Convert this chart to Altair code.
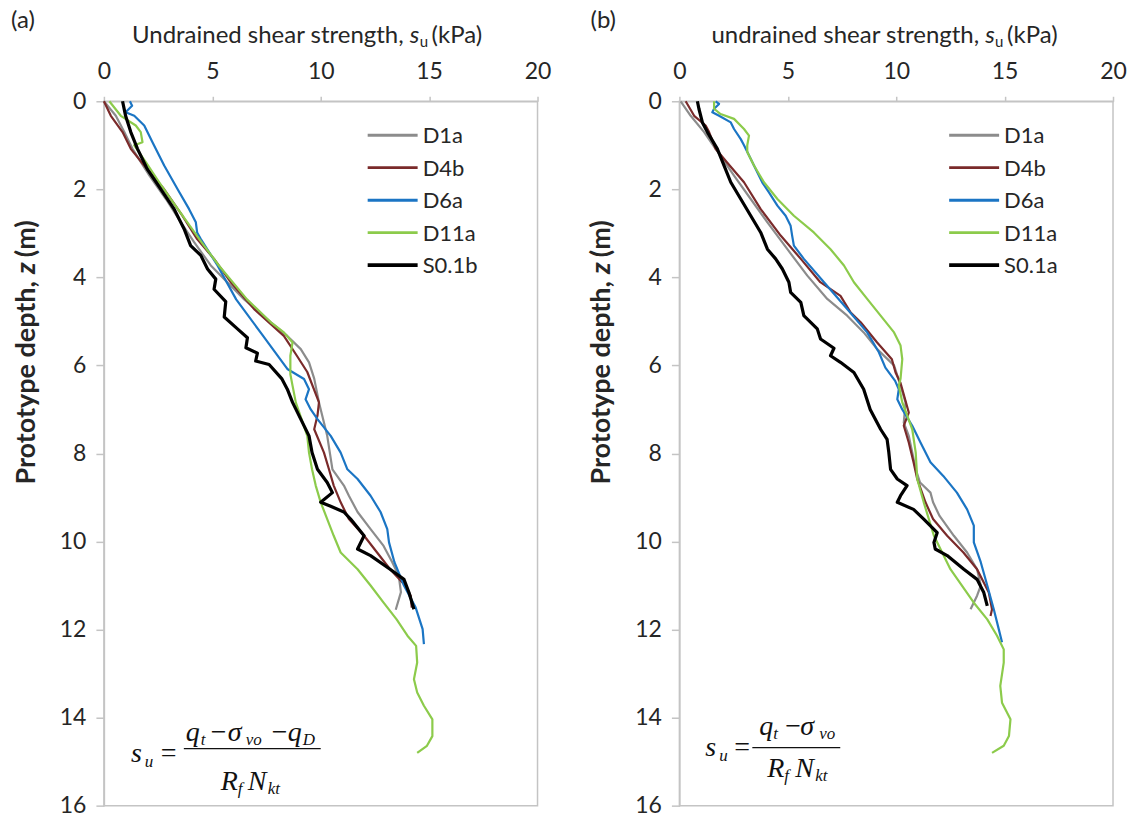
import altair as alt
import pandas as pd

# ---------------- data ----------------
SERIES_A = ["D1a", "D4b", "D6a", "D11a", "S0.1b"]
SERIES_B = ["D1a", "D4b", "D6a", "D11a", "S0.1a"]
COLORS = ["#8C8C8C", "#7A2A2A", "#1B75C4", "#8CCB4B", "#000000"]
WIDTHS = [2.2, 2.2, 2.4, 2.2, 3.2]

# panel (a)
a_d1a_su = [0.0, 0.55, 0.94, 1.32, 2.1, 2.86, 3.55, 4.16, 4.93, 6.47, 7.7, 8.46, 9.08, 9.46, 9.7, 9.92,
            10.3, 10.54, 11.07, 11.3, 11.7, 12.3, 12.9, 13.3, 13.6, 13.7, 13.46]
a_d1a_z = [0.0, 0.33, 0.7, 1.08, 1.69, 2.22, 2.75, 3.2, 3.73, 4.5, 5.02, 5.33, 5.63, 5.93, 6.3, 6.84,
           7.6, 8.36, 8.73, 8.96, 9.33, 9.72, 10.1, 10.47, 10.78, 11.15, 11.55]
a_d4b_su = [0.0, 0.32, 0.86, 1.24, 1.86, 2.78, 3.62, 4.3, 5.08, 5.85, 6.93, 8.3, 8.9, 9.38, 9.92, 9.85,
            9.7, 10.15, 10.38, 10.6, 10.92, 11.3, 12.0, 12.6, 13.2, 13.9, 14.15, 14.2]
a_d4b_z = [0.0, 0.33, 0.7, 1.08, 1.46, 2.0, 2.6, 3.13, 3.58, 4.11, 4.72, 5.33, 5.78, 6.15, 6.84, 7.14,
           7.45, 7.98, 8.36, 8.73, 9.11, 9.49, 9.87, 10.25, 10.63, 11.0, 11.23, 11.5]
a_d6a_su = [1.2, 1.3, 1.0, 1.4, 1.86, 2.24, 2.78, 3.4, 3.93, 4.24, 4.3, 4.47, 5.24, 6.1, 7.3, 8.46, 9.23,
            9.46, 9.3, 9.54, 9.85, 10.46, 10.92, 11.23, 11.7, 12.3, 12.76, 13.07, 13.15, 13.4, 13.84,
            14.38, 14.7, 14.76]
a_d6a_z = [0.0, 0.1, 0.25, 0.33, 0.55, 0.93, 1.46, 2.0, 2.45, 2.75, 2.98, 3.13, 3.73, 4.5, 5.3, 6.08,
           6.31, 6.54, 6.77, 7.0, 7.22, 7.6, 7.98, 8.36, 8.58, 8.96, 9.33, 9.72, 10.02, 10.47, 11.0,
           11.5, 11.99, 12.33]
a_d11a_su = [0.25, 0.78, 1.47, 1.7, 1.78, 1.4, 1.94, 2.55, 3.2, 3.85, 4.5, 5.3, 6.6, 7.7, 8.3, 8.7,
             8.6, 8.6, 8.7, 8.85, 9.38, 9.46, 9.6, 9.77, 10.0, 10.3, 10.6, 10.92, 11.7, 12.3, 12.9,
             13.5, 14.0, 14.4, 14.45, 14.3, 14.45, 14.76, 15.15, 15.15, 14.9, 14.45]
a_d11a_z = [0.0, 0.33, 0.55, 0.7, 0.93, 1.0, 1.39, 1.84, 2.3, 2.75, 3.2, 3.73, 4.5, 5.02, 5.25, 5.48,
            5.78, 6.2, 6.46, 6.84, 7.6, 7.98, 8.36, 8.73, 9.11, 9.49, 9.87, 10.25, 10.63, 11.0, 11.39,
            11.77, 12.14, 12.37, 12.75, 13.13, 13.43, 13.73, 14.04, 14.42, 14.64, 14.8]
a_s01_su = [0.86, 1.0, 1.24, 1.55, 2.0, 2.63, 3.24, 3.7, 4.0, 4.47, 4.78, 5.16, 5.08, 5.62, 5.55, 6.16,
            6.62, 6.55, 7.08, 7.0, 7.62, 8.2, 8.46, 8.7, 9.08, 9.46, 9.6, 9.85, 10.3, 10.54, 10.0,
            10.46, 11.07, 11.38, 12.0, 11.7, 12.3, 13.2, 13.84, 14.07, 14.3]
a_s01_z = [0.0, 0.33, 0.7, 1.08, 1.54, 2.0, 2.45, 2.9, 3.28, 3.5, 3.81, 4.04, 4.27, 4.55, 4.9, 5.17,
           5.37, 5.6, 5.72, 5.9, 5.98, 6.3, 6.54, 6.84, 7.22, 7.6, 7.98, 8.36, 8.66, 8.89, 9.11,
           9.2, 9.33, 9.49, 9.87, 10.17, 10.32, 10.63, 10.86, 11.16, 11.54]

# panel (b)
b_d1a_su = [0.06, 0.52, 1.14, 1.67, 2.52, 3.29, 4.06, 4.98, 5.9, 6.82, 7.74, 8.5, 9.12, 9.9, 10.2,
            10.43, 10.35, 10.58, 10.74, 10.9, 11.1, 11.58, 11.7, 12.0, 12.66, 13.27, 13.73, 13.9,
            13.73, 13.43]
b_d1a_z = [0.0, 0.33, 0.7, 1.08, 1.69, 2.22, 2.75, 3.36, 3.96, 4.49, 4.87, 5.25, 5.63, 6.0, 6.46,
           6.84, 7.3, 7.6, 7.98, 8.36, 8.66, 8.89, 9.11, 9.42, 9.87, 10.25, 10.63, 11.0, 11.23, 11.54]
b_d4b_su = [0.29, 0.68, 1.21, 1.37, 1.67, 2.2, 2.98, 3.75, 4.67, 5.6, 6.5, 7.43, 7.9, 8.36, 9.12, 9.8,
            9.97, 10.2, 10.58, 10.35, 10.58, 10.8, 10.97, 11.35, 11.7, 12.35, 13.1, 13.73, 14.27,
            14.42, 14.35]
b_d4b_z = [0.0, 0.33, 0.55, 0.7, 1.08, 1.39, 1.84, 2.45, 3.05, 3.58, 4.11, 4.42, 4.8, 5.02, 5.48,
           5.86, 6.16, 6.4, 7.07, 7.37, 7.75, 8.2, 8.58, 9.11, 9.49, 9.87, 10.25, 10.63, 11.16,
           11.54, 11.69]
b_d6a_su = [1.67, 1.83, 1.6, 1.52, 1.83, 2.37, 2.52, 2.83, 2.98, 3.44, 3.82, 4.13, 4.52, 4.9, 5.13,
            5.2, 5.28, 5.74, 6.67, 7.74, 8.66, 9.2, 9.5, 9.95, 10.12, 10.05, 10.28, 10.74, 11.12,
            11.58, 12.17, 12.8, 13.27, 13.58, 13.58, 13.9, 14.2, 14.5, 14.73, 14.88]
b_d6a_z = [0.0, 0.06, 0.17, 0.25, 0.33, 0.48, 0.63, 0.86, 1.0, 1.46, 1.84, 2.07, 2.37, 2.6, 2.83,
           3.05, 3.28, 3.58, 4.11, 4.72, 5.25, 5.7, 6.05, 6.35, 6.54, 6.77, 7.0, 7.37, 7.75, 8.2,
           8.51, 8.89, 9.27, 9.64, 10.02, 10.47, 11.0, 11.54, 11.99, 12.29]
b_d11a_su = [1.6, 1.6, 1.9, 2.52, 2.98, 3.21, 3.13, 3.13, 3.44, 3.9, 4.52, 5.28, 6.2, 6.97, 7.59,
             8.05, 8.66, 9.28, 9.9, 10.2, 10.28, 10.2, 10.12, 10.28, 10.74, 10.9, 10.97, 11.27,
             11.74, 12.5, 13.58, 14.2, 14.65, 14.96, 14.96, 14.8, 14.88, 15.27, 15.2, 14.96, 14.42]
b_d11a_z = [0.0, 0.17, 0.29, 0.4, 0.63, 0.78, 1.0, 1.15, 1.46, 1.84, 2.22, 2.6, 2.98, 3.36, 3.73,
            4.11, 4.49, 4.87, 5.25, 5.55, 5.86, 6.3, 6.46, 6.84, 7.45, 7.98, 8.58, 9.11, 9.87,
            10.63, 11.39, 11.77, 12.14, 12.45, 12.75, 13.28, 13.66, 14.04, 14.42, 14.64, 14.8]
b_s01_su = [0.83, 0.9, 1.06, 1.29, 1.75, 2.06, 2.37, 2.83, 3.29, 3.75, 4.06, 4.44, 4.75, 5.05, 5.13,
            5.6, 5.74, 6.36, 6.51, 7.13, 6.97, 7.43, 8.05, 8.5, 8.8, 9.28, 9.58, 9.66, 9.74, 10.05,
            10.5, 10.2, 10.05, 10.8, 11.27, 11.89, 11.74, 11.8, 12.35, 13.12, 13.73, 14.04, 14.2]
b_s01_z = [0.0, 0.17, 0.48, 0.7, 1.08, 1.46, 1.84, 2.22, 2.6, 2.98, 3.36, 3.58, 3.81, 4.11, 4.34,
           4.57, 4.87, 5.17, 5.4, 5.61, 5.78, 5.93, 6.16, 6.54, 7.0, 7.45, 7.68, 7.98, 8.36, 8.58,
           8.73, 8.96, 9.11, 9.27, 9.49, 9.8, 10.02, 10.17, 10.32, 10.63, 10.86, 11.16, 11.46]

X_TICKS = [0, 5, 10, 15, 20]
Y_TICKS = [0, 2, 4, 6, 8, 10, 12, 14, 16]

# ---------------- styling ----------------
W, H = 434, 705
FONT = "Lato"
SERIF = "Liberation Serif"
TXT = "#262626"
AX = "#C4C4C4"
one = pd.DataFrame({"k": [0]})


def make_df(names, sus, zs):
    rows = []
    for name, su, z in zip(names, sus, zs):
        for i, (a, b) in enumerate(zip(su, z)):
            rows.append({"series": name, "su": a, "z": b, "i": i})
    return pd.DataFrame(rows)


def txt(text, x, y, size=20, font=FONT, style="normal", align="left",
        baseline="alphabetic", angle=None, color=TXT, weight="normal"):
    kw = dict(text=text, fontSize=size, font=font, fontStyle=style, align=align,
              baseline=baseline, color=color, fontWeight=weight)
    if angle is not None:
        kw["angle"] = angle
    return alt.Chart(one).mark_text(**kw).encode(x=alt.value(x), y=alt.value(y))


def rule(x0, x1, y, color, width):
    return alt.Chart(one).mark_rule(color=color, strokeWidth=width).encode(
        x=alt.value(x0), x2=alt.value(x1), y=alt.value(y))


def panel(df, names, tag, first_word, formula, bar, leg_x, tag_x):
    xenc = alt.X("su:Q", scale=alt.Scale(domain=[0, 20], nice=False, zero=False),
                 axis=alt.Axis(orient="top", values=X_TICKS, title=None, grid=False,
                               labelFontSize=23, labelFont=FONT, labelColor=TXT,
                               labelPadding=13, tickSize=5, tickColor=AX, tickWidth=1.5,
                               domainColor=AX, domainWidth=1.5, labelFlush=False))
    yenc = alt.Y("z:Q", scale=alt.Scale(domain=[0, 16], reverse=True, nice=False, zero=False),
                 axis=alt.Axis(values=Y_TICKS, title=None, grid=False,
                               labelFontSize=23, labelFont=FONT, labelColor=TXT,
                               labelPadding=10, tickSize=8, tickColor=AX, tickWidth=1.5,
                               domainColor=AX, domainWidth=1.5, labelFlush=False))
    colored = alt.Chart(df[df.series != names[-1]]).mark_line(
        strokeWidth=2.2, strokeJoin="round").encode(
        x=xenc, y=yenc,
        color=alt.Color("series:N", scale=alt.Scale(domain=names[:-1], range=COLORS[:-1]),
                        legend=None),
        order="i:Q")
    black = alt.Chart(df[df.series == names[-1]]).mark_line(
        strokeWidth=3.2, color="#000000", strokeJoin="round").encode(
        x=xenc, y=yenc, order="i:Q")

    layers = [colored, black]
    # legend
    for k, (n, c, w) in enumerate(zip(names, COLORS, WIDTHS)):
        yy = 34 + 32.5 * k
        layers.append(rule(leg_x, leg_x + 50, yy, c, w + 0.6))
        layers.append(txt(n, leg_x + 55, yy + 1, size=22, baseline="middle"))
    # panel tag
    layers.append(txt(tag, tag_x, -80, size=24, baseline="middle"))
    # x title
    layers.append(txt(first_word + " shear strength,", 300, -58, size=24, align="right"))
    layers.append(txt("s", 306, -58, size=24, style="italic"))
    layers.append(txt("u", 316, -54, size=15))
    layers.append(txt("(kPa)", 328, -58, size=24))
    # y title
    layers.append(txt("Prototype depth,", -77, 180, size=27, align="right", baseline="middle",
                      angle=270, weight="bold"))
    layers.append(txt("z", -77, 173, size=27, style="italic", baseline="middle", angle=270,
                      weight="bold"))
    layers.append(txt("(m)", -77, 156, size=27, baseline="middle", angle=270, weight="bold"))
    # formula
    for (t, x, y, s, st) in formula:
        layers.append(txt(t, x, y, size=s, font=SERIF, style=st, color="#111111"))
    layers.append(rule(bar[0], bar[1], bar[2], "#111111", 1.3))
    return alt.layer(*layers).properties(width=W, height=H)


formula_a = [
    ("s", 27, 661, 28, "italic"), ("u", 41, 666, 17, "italic"), ("=", 57, 661, 28, "normal"),
    ("q", 82, 640, 28, "italic"), ("t", 97, 644, 17, "italic"), ("\u2212", 107, 640, 28, "normal"),
    ("\u03c3", 124, 640, 28, "italic"), ("vo", 142, 644, 17, "italic"),
    ("\u2212", 168, 640, 28, "normal"), ("q", 184, 640, 28, "italic"), ("D", 199, 644, 17, "italic"),
    ("R", 117, 689, 28, "italic"), ("f", 134, 693, 17, "italic"), ("N", 144, 689, 28, "italic"),
    ("kt", 164, 693, 17, "italic"),
]
bar_a = (80, 217, 648)

formula_b = [
    ("s", 26, 655, 28, "italic"), ("u", 40, 660, 17, "italic"), ("=", 55, 655, 28, "normal"),
    ("q", 80, 634, 28, "italic"), ("t", 94, 638, 17, "italic"), ("\u2212", 106, 634, 28, "normal"),
    ("\u03c3", 121, 634, 28, "italic"), ("vo", 140, 638, 17, "italic"),
    ("R", 88, 676, 28, "italic"), ("f", 105, 680, 17, "italic"), ("N", 116, 676, 28, "italic"),
    ("kt", 136, 680, 17, "italic"),
]
bar_b = (73, 161, 647)

df_a = make_df(SERIES_A, [a_d1a_su, a_d4b_su, a_d6a_su, a_d11a_su, a_s01_su],
               [a_d1a_z, a_d4b_z, a_d6a_z, a_d11a_z, a_s01_z])
df_b = make_df(SERIES_B, [b_d1a_su, b_d4b_su, b_d6a_su, b_d11a_su, b_s01_su],
               [b_d1a_z, b_d4b_z, b_d6a_z, b_d11a_z, b_s01_z])

pa = panel(df_a, SERIES_A, "(a)", "Undrained", formula_a, bar_a, 264, -93)
pb = panel(df_b, SERIES_B, "(b)", "undrained", formula_b, bar_b, 270, -89)

chart = alt.hconcat(pa, pb, spacing=35).resolve_scale(color="independent").properties(
    padding={"left": 10, "top": 8, "right": 0, "bottom": 0}
).configure_view(stroke=AX, strokeWidth=1.5)

chart.save("out.html", embed_options={"renderer": "svg", "actions": False})
